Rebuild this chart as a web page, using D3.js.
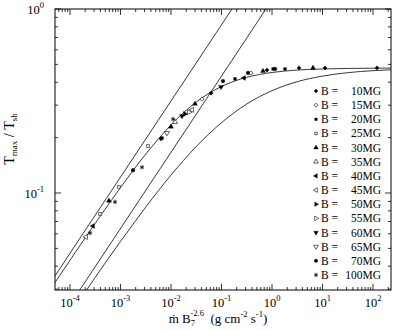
<!DOCTYPE html>
<html lang="en">
<head>
<meta charset="UTF-8">
<title>Tmax / Tsh against accretion rate</title>
<style>
    body { margin: 0; padding: 0; background: #fff; overflow: hidden; }
    svg text { font-family: 'Liberation Serif', 'DejaVu Serif', serif; fill: #000; }
    .curve { fill: none; stroke: #222; stroke-width: 0.9px; }
    .tick { stroke: #000; stroke-width: 0.8px; }
</style>
</head>
<body>
<svg id="chart"></svg>
<script src="https://d3js.org/d3.v7.min.js"></script>
<script>
// field strengths in the legend (MG)
const fields = ["10", "15", "20", "25", "30", "35", "40", "45", "50", "55", "60", "65", "70", "100"];

// measured points [mdot B7^-2.6, Tmax/Tsh], one array per field
const b10 = [[6.34e-3, 0.197], [0.062, 0.349], [0.796, 0.466], [3.43, 0.478], [11.2, 0.478], [120, 0.478]];
const b15 = [[0.0411, 0.324], [0.384, 0.449]];
const b20 = [[6.64e-3, 0.199], [0.185, 0.417], [1.05, 0.472], [1.81, 0.472]];
const b25 = [[3.93e-4, 0.0769], [9.33e-4, 0.108], [3.51e-3, 0.180]];
const b30 = [[5.92e-4, 0.0906], [0.010, 0.229], [0.0299, 0.305], [0.664, 0.460], [6.48, 0.478]];
const b35 = [[0.012, 0.243]];
const b40 = [[2.85e-4, 0.0662], [0.279, 0.422]];
const b45 = [[2.07e-4, 0.0577], [0.0261, 0.283]];
const b50 = [[0.0189, 0.269]];
const b55 = [[0.0227, 0.275]];
const b60 = [[0.0165, 0.262], [0.0977, 0.377]];
const b65 = [[8.33e-3, 0.212]];
const b70 = [[1.77e-3, 0.133], [0.107, 0.406], [0.335, 0.449], [1.15, 0.472]];
const b100 = [[2.49e-4, 0.0606], [7.78e-4, 0.0894], [2.67e-3, 0.138], [0.011, 0.252]];
const measured = [b10, b15, b20, b25, b30, b35, b40, b45, b50, b55, b60, b65, b70, b100];

// model curves
const fitUpper = [[5.01e-5, 0.0325], [3.16e-4, 0.0684], [1e-3, 0.107], [3.16e-3, 0.1626], [0.01, 0.2343],
    [0.0178, 0.2733], [0.0316, 0.3119], [0.0562, 0.3478], [0.1, 0.3792], [0.178, 0.4051], [0.316, 0.4254],
    [0.562, 0.4407], [1, 0.4519], [3.16, 0.4657], [10, 0.4722], [31.6, 0.4753], [100, 0.4767], [229, 0.4773]];
const fitLower = [[1.78e-4, 0.0276], [3.16e-4, 0.0348], [1e-3, 0.0545], [3.16e-3, 0.0838], [0.01, 0.1252],
    [0.0316, 0.1788], [0.1, 0.2411], [0.316, 0.3045], [1, 0.3599], [3.16, 0.4026], [10, 0.4318],
    [31.6, 0.4507], [100, 0.4622], [229, 0.4674]];
const asymUpper = [[5.0e-5, 0.0353], [0.1614, 1.0]];
const asymLower = [[1.56e-4, 0.0297], [0.760, 1.0]];

// decades that get a label
const xDecades = [-4, -3, -2, -1, 0, 1, 2];
const yDecades = [-1, 0];

// marker for each field: shape, filled, rotation
const markerStyle = [
    {shape: "diamond", filled: true, rot: 45}, {shape: "diamond", filled: false, rot: 45},
    {shape: "square", filled: true, rot: 0}, {shape: "square", filled: false, rot: 0},
    {shape: "triangle", filled: true, rot: 0}, {shape: "triangle", filled: false, rot: 0},
    {shape: "triangle", filled: true, rot: -90}, {shape: "triangle", filled: false, rot: -90},
    {shape: "triangle", filled: true, rot: 90}, {shape: "triangle", filled: false, rot: 90},
    {shape: "triangle", filled: true, rot: 180}, {shape: "triangle", filled: false, rot: 180},
    {shape: "circle", filled: true, rot: 0}, {shape: "asterisk", filled: false, rot: 0}
];

const W = 393, H = 331;
const plot = {left: 55, right: 391, top: 9, bottom: 290};

const svg = d3.select("#chart").attr("width", W).attr("height", H);
svg.append("rect").attr("width", W).attr("height", H).attr("fill", "#fff");

const x = d3.scaleLog().domain([5.05e-5, 227]).range([plot.left, plot.right]);
const y = d3.scaleLog().domain([0.0297, 1]).range([plot.bottom, plot.top]);

svg.append("clipPath").attr("id", "clip")
  .append("rect")
    .attr("x", plot.left).attr("y", plot.top)
    .attr("width", plot.right - plot.left).attr("height", plot.bottom - plot.top);

// curves
const line = d3.line().x(d => x(d[0])).y(d => y(d[1]));
const smooth = d3.line().x(d => x(d[0])).y(d => y(d[1])).curve(d3.curveMonotoneX);
const curves = svg.append("g").attr("clip-path", "url(#clip)");
[asymUpper, asymLower].forEach(c => curves.append("path").attr("class", "curve").attr("d", line(c)));
[fitUpper, fitLower].forEach(c => curves.append("path").attr("class", "curve").attr("d", smooth(c)));

// markers
const shapes = {
    diamond: d3.symbolSquare,
    square: d3.symbolSquare,
    triangle: d3.symbolTriangle,
    circle: d3.symbolCircle,
    asterisk: d3.symbolAsterisk || d3.symbolCross
};
const sizes = {diamond: 9, square: 8, triangle: 11, circle: 11, asterisk: 15};

function drawMarker(g, style, cx, cy, scale) {
    const sym = d3.symbol().type(shapes[style.shape]).size(sizes[style.shape] * scale);
    const p = g.append("path")
        .attr("d", sym())
        .attr("transform", `translate(${cx},${cy}) rotate(${style.rot})`);
    if (style.shape === "asterisk") {
        p.attr("fill", "none").attr("stroke", "#000").attr("stroke-width", 0.8);
    } else if (style.filled) {
        p.attr("fill", "#000").attr("stroke", "#000").attr("stroke-width", 0.3);
    } else {
        p.attr("fill", "#fff").attr("stroke", "#000").attr("stroke-width", 0.6);
    }
}

const pts = svg.append("g").attr("clip-path", "url(#clip)");
measured.forEach((arr, i) => {
    arr.forEach(d => drawMarker(pts, markerStyle[i], x(d[0]), y(d[1]), 1));
});

// frame + ticks on all four sides, pointing inward
svg.append("rect")
    .attr("x", plot.left).attr("y", plot.top)
    .attr("width", plot.right - plot.left).attr("height", plot.bottom - plot.top)
    .attr("fill", "none").attr("stroke", "#000").attr("stroke-width", 1);

const ticks = svg.append("g");
function logTicks(scale) {
    const [lo, hi] = scale.domain();
    const out = [];
    for (let d = Math.floor(Math.log10(lo)); d <= Math.ceil(Math.log10(hi)); d++) {
        for (let k = 1; k <= 9; k++) {
            const v = k * Math.pow(10, d);
            if (v >= lo * 0.999 && v <= hi * 1.001) out.push({v: v, major: k === 1});
        }
    }
    return out;
}
logTicks(x).forEach(t => {
    const len = t.major ? 6 : 3, px = x(t.v);
    ticks.append("line").attr("class", "tick").attr("x1", px).attr("x2", px).attr("y1", plot.bottom).attr("y2", plot.bottom - len);
    ticks.append("line").attr("class", "tick").attr("x1", px).attr("x2", px).attr("y1", plot.top).attr("y2", plot.top + len);
});
logTicks(y).forEach(t => {
    const len = t.major ? 6 : 3, py = y(t.v);
    ticks.append("line").attr("class", "tick").attr("y1", py).attr("y2", py).attr("x1", plot.left).attr("x2", plot.left + len);
    ticks.append("line").attr("class", "tick").attr("y1", py).attr("y2", py).attr("x1", plot.right).attr("x2", plot.right - len);
});

// tick labels 10^n
xDecades.forEach(e => {
    const t = svg.append("text")
        .attr("x", x(Math.pow(10, e))).attr("y", 307)
        .attr("text-anchor", "middle").style("font-size", "12.5px");
    t.append("tspan").text("10");
    t.append("tspan").attr("dy", -6).style("font-size", "8.5px").text(e);
});
yDecades.forEach(e => {
    const t = svg.append("text")
        .attr("x", 44).attr("y", y(Math.pow(10, e)) + 5)
        .attr("text-anchor", "end").style("font-size", "12.5px");
    t.append("tspan").text("10");
    t.append("tspan").attr("dy", -6).style("font-size", "8.5px").text(e);
});

// axis titles
const xt = svg.append("text").attr("x", 218).attr("y", 323)
    .attr("text-anchor", "middle").style("font-size", "13px");
xt.append("tspan").text("\u1e41 B");
xt.append("tspan").attr("dy", 3).style("font-size", "8.5px").text("7");
xt.append("tspan").attr("dx", -4.5).attr("dy", -10).style("font-size", "8.5px").text("-2.6");
xt.append("tspan").attr("dy", 7).text("\u00a0\u00a0(g cm");
xt.append("tspan").attr("dy", -6).style("font-size", "8.5px").text("-2");
xt.append("tspan").attr("dy", 6).text("\u00a0s");
xt.append("tspan").attr("dy", -6).style("font-size", "8.5px").text("-1");
xt.append("tspan").attr("dy", 6).text(")");

const yt = svg.append("text").attr("transform", "translate(14,139) rotate(-90)")
    .attr("text-anchor", "middle").style("font-size", "14px");
yt.append("tspan").text("T");
yt.append("tspan").attr("dy", 3).style("font-size", "9px").text("max");
yt.append("tspan").attr("dy", -3).text("\u00a0/\u00a0T");
yt.append("tspan").attr("dy", 3).style("font-size", "9px").text("sh");

// legend
const legend = svg.append("g");
fields.forEach((f, i) => {
    const by = 95 + i * 14.15;
    drawMarker(legend, markerStyle[i], 316, by - 4, 0.85);
    legend.append("text").attr("x", 321).attr("y", by).style("font-size", "11.5px").text("B =");
    legend.append("text").attr("x", 381).attr("y", by).attr("text-anchor", "end").style("font-size", "11.5px").text(f + "MG");
});
</script>
</body>
</html>
